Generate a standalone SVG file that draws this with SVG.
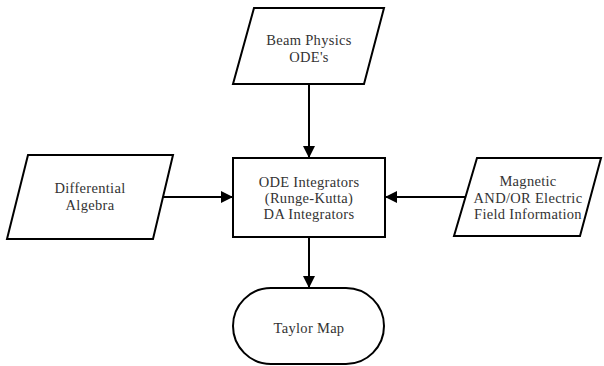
<svg xmlns="http://www.w3.org/2000/svg" width="604" height="366" viewBox="0 0 604 366">
<style>
.s{fill:#fff;stroke:#000;stroke-width:2;stroke-linejoin:miter}
.t{font-size:14.5px;fill:#333;text-anchor:middle;letter-spacing:0.3px}
.c{stroke:#000;stroke-width:2;fill:none}
</style>
<defs>
<marker id="a" markerWidth="12" markerHeight="12" refX="11" refY="6" orient="auto" markerUnits="userSpaceOnUse">
<path d="M0,0 L12,6 L0,12 Z" fill="#000"/>
</marker>
</defs>
<rect width="604" height="366" fill="#fff"/>
<g id="connectors">
<line class="c" x1="309" y1="84" x2="309" y2="157" marker-end="url(#a)"/>
<line class="c" x1="163" y1="197" x2="232" y2="197" marker-end="url(#a)"/>
<line class="c" x1="466" y1="197" x2="386" y2="197" marker-end="url(#a)"/>
<line class="c" x1="309" y1="237" x2="309" y2="287" marker-end="url(#a)"/>
</g>
<g font-family="Liberation Serif, DejaVu Serif, serif">
<g id="beam">
<polygon class="s" points="254,8 384,8 364,84 233,84"/>
<text class="t" x="309" y="45">Beam Physics</text>
<text class="t" x="309" y="62">ODE's</text>
</g>
<g id="da">
<polygon class="s" points="28,155 173,155 153,239 7,239"/>
<text class="t" x="90" y="193">Differential</text>
<text class="t" x="90" y="210">Algebra</text>
</g>
<g id="integrators">
<rect class="s" x="233" y="158" width="152" height="79"/>
<text class="t" x="309" y="187">ODE Integrators</text>
<text class="t" x="309" y="203">(Runge-Kutta)</text>
<text class="t" x="309" y="219">DA Integrators</text>
</g>
<g id="field">
<polygon class="s" points="477,158 601,158 580,236 454,236"/>
<text class="t" x="528" y="186">Magnetic</text>
<text class="t" x="528" y="203">AND/OR Electric</text>
<text class="t" x="528" y="219">Field Information</text>
</g>
<g id="taylor">
<rect class="s" x="233" y="288" width="151" height="76" rx="38" ry="38"/>
<text class="t" x="309" y="333">Taylor Map</text>
</g>
</g>
</svg>
